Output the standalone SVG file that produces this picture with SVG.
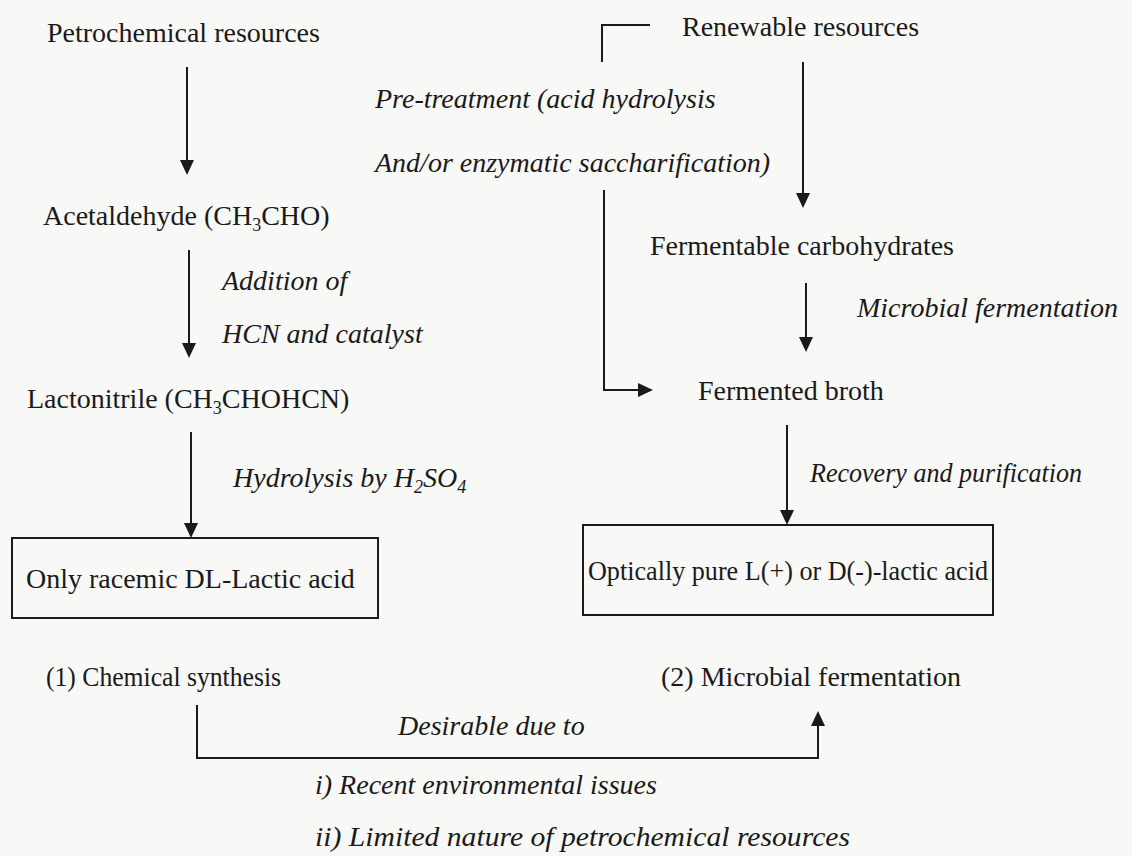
<svg xmlns="http://www.w3.org/2000/svg" width="1132" height="856" viewBox="0 0 1132 856">
<style>
.t{font-family:"Liberation Serif","Times New Roman",serif;font-size:28px;fill:#1a1a1a}
.i{font-style:italic}
.sub{font-size:18px}
.ln{fill:none;stroke:#1a1a1a;stroke-width:2}
.bx{fill:none;stroke:#1a1a1a;stroke-width:2}
</style>
<defs>
<marker id="ah" markerWidth="16" markerHeight="14" refX="11" refY="7" orient="auto" markerUnits="userSpaceOnUse">
<path d="M0,0 L15,7 L0,14 z" fill="#1a1a1a"/>
</marker>
</defs>
<rect width="1132" height="856" fill="#f8f8f6"/>

<g id="petro"><text class="t" x="47" y="42">Petrochemical resources</text></g>
<g id="acetaldehyde"><text class="t" x="43" y="225">Acetaldehyde (CH<tspan class="sub" dy="6">3</tspan><tspan dy="-6">CHO)</tspan></text></g>
<g id="lactonitrile"><text class="t" x="27" y="408">Lactonitrile (CH<tspan class="sub" dy="6">3</tspan><tspan dy="-6">CHOHCN)</tspan></text></g>
<g id="racemic">
<rect class="bx" x="12" y="538" width="366" height="80"/>
<text class="t" x="26" y="588">Only racemic DL-Lactic acid</text>
</g>
<g id="chem-label"><text class="t" x="46" y="686" font-size="26" textLength="235" lengthAdjust="spacingAndGlyphs">(1) Chemical synthesis</text></g>

<g id="renewable"><text class="t" x="682" y="36">Renewable resources</text></g>
<g id="carbohydrates"><text class="t" x="650" y="255">Fermentable carbohydrates</text></g>
<g id="broth"><text class="t" x="698" y="400">Fermented broth</text></g>
<g id="optically">
<rect class="bx" x="583" y="525" width="410" height="90"/>
<text class="t" x="588" y="580" font-size="26.5" textLength="400" lengthAdjust="spacingAndGlyphs">Optically pure L(+) or D(-)-lactic acid</text>
</g>
<g id="micro-label"><text class="t" x="661" y="686">(2) Microbial fermentation</text></g>

<g id="connectors">
<path class="ln" d="M187,67 V171" marker-end="url(#ah)"/>
<path class="ln" d="M189,250 V354" marker-end="url(#ah)"/>
<path class="ln" d="M191,432 V534" marker-end="url(#ah)"/>
<path class="ln" d="M803,62 V204" marker-end="url(#ah)"/>
<path class="ln" d="M806,283 V348" marker-end="url(#ah)"/>
<path class="ln" d="M787,425 V521" marker-end="url(#ah)"/>
<path class="ln" d="M602,62 V25 H650"/>
<path class="ln" d="M604,190 V390 H649" marker-end="url(#ah)"/>
<path class="ln" d="M197,705 V758 H818 V715" marker-end="url(#ah)"/>
</g>

<g id="labels">
<text class="t i" x="222" y="290">Addition of</text>
<text class="t i" x="222" y="343">HCN and catalyst</text>
<text class="t i" x="233" y="487">Hydrolysis by H<tspan class="sub" dy="6">2</tspan><tspan dy="-6">SO</tspan><tspan class="sub" dy="6">4</tspan></text>
<text class="t i" x="375" y="108">Pre-treatment (acid hydrolysis</text>
<text class="t i" x="375" y="172">And/or enzymatic saccharification)</text>
<text class="t i" x="857" y="317">Microbial fermentation</text>
<text class="t i" x="810" y="482" font-size="26.5" textLength="272" lengthAdjust="spacingAndGlyphs">Recovery and purification</text>
<text class="t i" x="398" y="735">Desirable due to</text>
<text class="t i" x="315" y="794">i) Recent environmental issues</text>
<text class="t i" x="315" y="846" textLength="535" lengthAdjust="spacingAndGlyphs">ii) Limited nature of petrochemical resources</text>
</g>
</svg>
